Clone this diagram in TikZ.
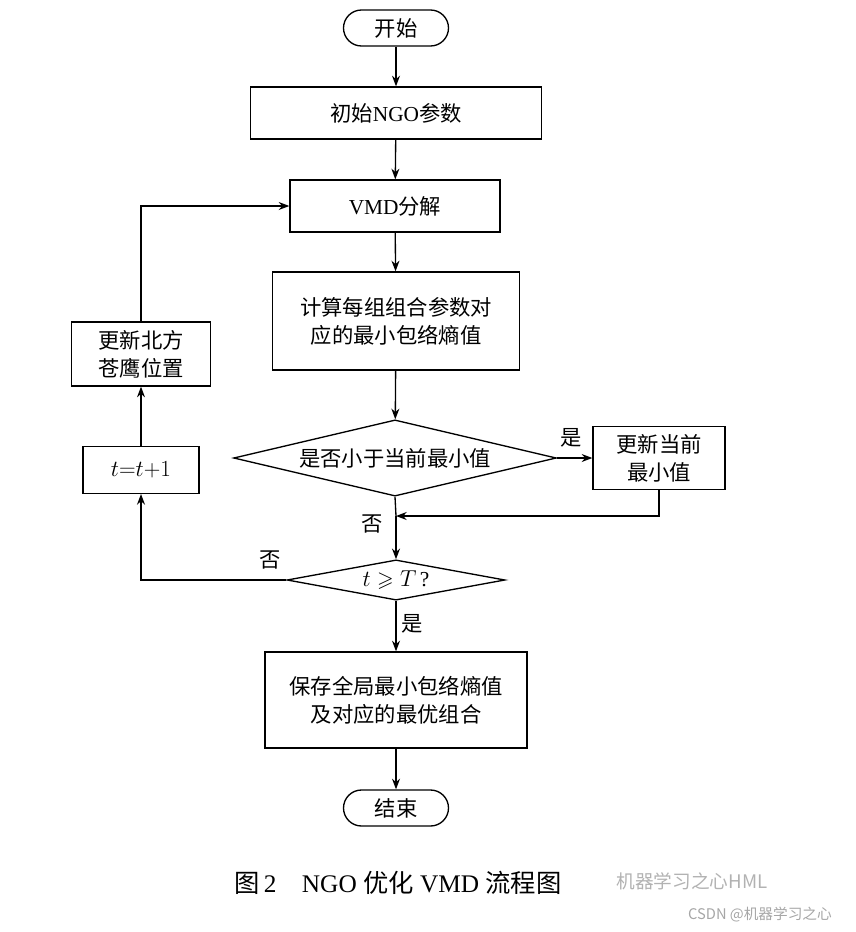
\documentclass[tikz,border=0pt]{standalone}
\usepackage{amssymb}
\usepackage{fontspec}
\setmainfont{Liberation Serif}
\newfontfamily\cjk{Noto Sans CJK SC}
\usetikzlibrary{shapes.geometric,arrows.meta}
\begin{document}
\begin{tikzpicture}[x=0.75pt,y=-0.75pt,
  box/.style={draw,line width=1pt,minimum width=#1,align=center,font=\fontsize{16}{21}\selectfont,inner sep=0pt},
  term/.style={draw,line width=1pt,rounded corners=13.5pt,minimum width=78.75pt,minimum height=27pt,font=\fontsize{16}{20}\selectfont,inner sep=0pt},
  dia/.style={draw,line width=1pt,shape=diamond,inner sep=0pt,font=\fontsize{16}{20}\selectfont},
  arr/.style={line width=1pt,-{Stealth[length=8pt,width=6pt]}},
  ln/.style={line width=1pt},
  lab/.style={font=\fontsize{16}{20}\selectfont\cjk}]
\useasboundingbox (0,0) rectangle (856,932);
\node[term] (start) at (396,28) {\cjk 开始};
\node[box=218pt,minimum height=39pt] (init) at (396,113) {{\cjk 初始}NGO{\cjk 参数}};
\node[box=157.5pt,minimum height=39pt] (vmd) at (395,206) {VMD{\cjk 分解}};
\node[box=185pt,minimum height=73.5pt] (calc) at (396,321) {\cjk 计算每组组合参数对\\\cjk 应的最小包络熵值};
\node[dia,aspect=3.4,minimum width=242pt] (d1) at (395,458) {\cjk 是否小于当前最小值};
\node[box=99pt,minimum height=47pt] (upd) at (659,458) {\cjk 更新当前\\\cjk 最小值};
\node[dia,aspect=3.1,minimum width=163.5pt] (d2) at (396,580) {$t\geqslant T$\,?};
\node[box=196.5pt,minimum height=72pt] (save) at (396,700) {\cjk 保存全局最小包络熵值\\\cjk 及对应的最优组合};
\node[term] (end) at (396,808) {\cjk 结束};
\node[box=87pt,minimum height=35pt] (tt) at (141,470) {$t{=}t{+}1$};
\node[box=104pt,minimum height=48pt] (pos) at (141,354) {\cjk 更新北方\\\cjk 苍鹰位置};
\coordinate (j1) at (396,516);
\draw[arr] (start) -- (init);
\draw[arr] (init) -- (vmd);
\draw[arr] (vmd) -- (calc);
\draw[arr] (calc) -- (d1);
\draw[arr] (d1) -- node[lab,above,pos=0.4,yshift=4pt]{是} (upd);
\draw[arr] (upd.south) |- (j1);
\draw[ln] (d1.south) -- (j1);
\draw[arr] (j1) -- (d2);
\node[lab] at (372,524) {否};
\draw[arr] (d2) -- node[lab,right,pos=0.45]{是} (save);
\draw[arr] (save) -- (end);
\draw[arr] (d2.west) -| (tt.south);
\node[lab] at (270,560) {否};
\draw[arr] (tt) -- (pos);
\draw[arr] (pos.north) |- (vmd.west);
\node[font=\fontsize{19}{22}\selectfont] at (398,883) {{\cjk 图}\,2\quad NGO {\cjk 优化} VMD {\cjk 流程图}};
\node[lab,text=gray!60,font=\fontsize{14}{16}\selectfont\cjk] at (692,881) {机器学习之心HML};
\node[lab,text=gray!70,font=\fontsize{11}{14}\selectfont\cjk] at (760,915) {CSDN @机器学习之心};
\end{tikzpicture}
\end{document}
